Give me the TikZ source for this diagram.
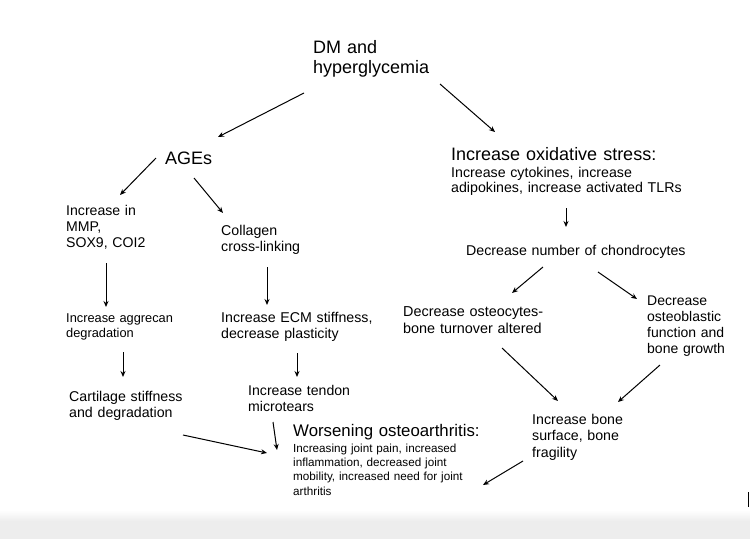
\documentclass[tikz,border=0pt]{standalone}
\usepackage{fontspec}
\setmainfont{Liberation Sans}
\usetikzlibrary{arrows.meta}

\tikzset{
  txt/.style={anchor=base west,inner sep=0pt,align=left,text width=260pt},
  bigtxt/.style={txt,font=\fontsize{18}{20.5}\selectfont},
  titletxt/.style={txt,font=\fontsize{16.8}{19}\selectfont},
  midtxt/.style={txt,font=\fontsize{14.2}{16.5}\selectfont},
  lesstxt/.style={txt,font=\fontsize{12.8}{15.5}\selectfont},
  smalltxt/.style={txt,font=\fontsize{11.7}{14.4}\selectfont},
  arr/.style={line width=1pt,-{Stealth[length=6pt,width=5pt]}}
}

\begin{document}
\begin{tikzpicture}[x=1pt,y=-1pt]
\useasboundingbox (0,0) rectangle (750,539);
\fill[white] (0,0) rectangle (750,539);
\shade[top color=white,bottom color=black!7] (0,510) rectangle (750,521);
\fill[black!7] (0,521) rectangle (750,539);
\draw[line width=1.5pt] (748.5,492) -- (748.5,507);

% top
\node[bigtxt] (dm) at (313,53) {DM and\\hyperglycemia};
\node[bigtxt] (ages) at (165,164) {AGEs};
\node[bigtxt] (oxi) at (451,160) {Increase oxidative stress:};
\node[midtxt,font=\fontsize{14.2}{15.5}\selectfont] (oxitxt) at (451,177) {Increase cytokines, increase\\adipokines, increase activated TLRs};

% left branch
\node[midtxt,font=\fontsize{14.1}{16}\selectfont] (mmp) at (66,215) {Increase in\\MMP,\\SOX9, COI2};
\node[midtxt] (coll) at (221,235) {Collagen\\cross-linking};
\node[lesstxt] (aggr) at (66,322) {Increase aggrecan\\degradation};
\node[midtxt] (ecm) at (221,322) {Increase ECM stiffness,\\decrease plasticity};
\node[midtxt] (cart) at (69,401) {Cartilage stiffness\\and degradation};
\node[midtxt,font=\fontsize{14.1}{16}\selectfont] (tendon) at (248,395) {Increase tendon\\microtears};
\node[titletxt] (worse) at (293,436) {Worsening osteoarthritis:};
\node[smalltxt] (worsetxt) at (293,452) {Increasing joint pain, increased\\inflammation, decreased joint\\mobility, increased need for joint\\arthritis};

% right branch
\node[midtxt] (chondro) at (466,255) {Decrease number of chondrocytes};
\node[midtxt,font=\fontsize{14.4}{17}\selectfont] (osteocyte) at (403,316) {Decrease osteocytes-\\bone turnover altered};
\node[midtxt,font=\fontsize{14}{16}\selectfont,text width=90pt] (osteoblast) at (647,305) {Decrease\\osteoblastic\\function and\\bone growth};
\node[midtxt,text width=120pt] (bone) at (532,424) {Increase bone\\surface, bone\\fragility};

% arrows
\draw[arr] ([shift={(-9,40)}]dm.base west) -- ([shift={(53,-27)}]ages.base west);
\draw[arr] ([shift={(127,31)}]dm.base west) -- ([shift={(44,-28)}]oxi.base west);
\draw[arr] ([shift={(-9,-6)}]ages.base west) -- ([shift={(54,-20)}]mmp.base west);
\draw[arr] ([shift={(29,14)}]ages.base west) -- ([shift={(2,-22)}]coll.base west);
\draw[arr] ([shift={(40,48)}]mmp.base west) -- ([shift={(40,-15)}]aggr.base west);
\draw[arr] ([shift={(46,32)}]coll.base west) -- ([shift={(46,-17)}]ecm.base west);
\draw[arr] ([shift={(57,30)}]aggr.base west) -- ([shift={(54,-24)}]cart.base west);
\draw[arr] ([shift={(76,31)}]ecm.base west) -- ([shift={(49,-18)}]tendon.base west);
\draw[arr] ([shift={(114,34)}]cart.base west) -- ([shift={(-26,17)}]worse.base west);
\draw[arr] ([shift={(25,27)}]tendon.base west) -- ([shift={(-16,14)}]worse.base west);
\draw[arr] ([shift={(115,31)}]oxitxt.base west) -- ([shift={(100,-28)}]chondro.base west);
\draw[arr] ([shift={(77,12)}]chondro.base west) -- ([shift={(109,-23)}]osteocyte.base west);
\draw[arr] ([shift={(132,17)}]chondro.base west) -- ([shift={(-10,-6)}]osteoblast.base west);
\draw[arr] ([shift={(99,32)}]osteocyte.base west) -- ([shift={(26,-23)}]bone.base west);
\draw[arr] ([shift={(13,60)}]osteoblast.base west) -- ([shift={(86,-22)}]bone.base west);
\draw[arr] ([shift={(-9,37)}]bone.base west) -- ([shift={(190,49)}]worse.base west);
\end{tikzpicture}
\end{document}
